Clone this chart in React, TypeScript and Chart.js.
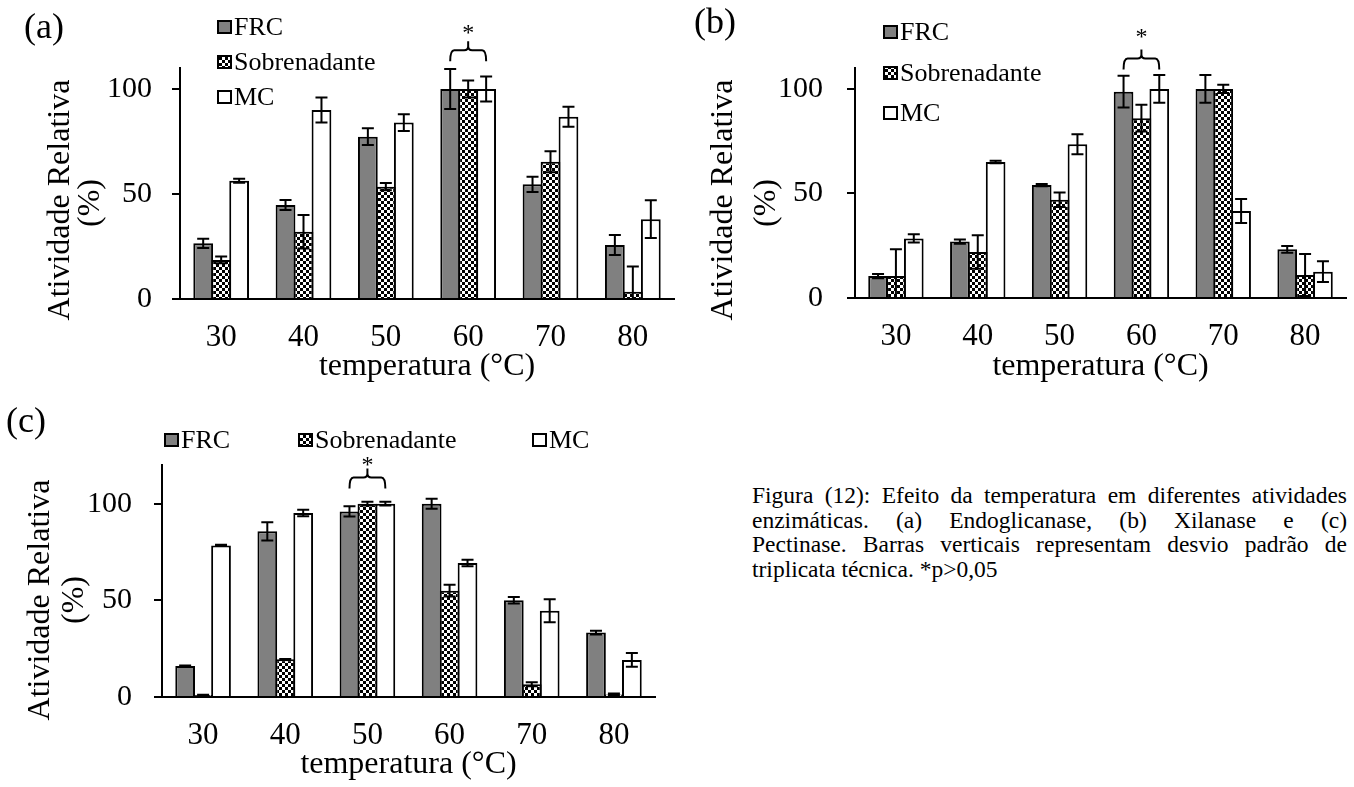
import React, { useEffect, useRef } from 'react';
import { Chart, registerables } from 'chart.js';

Chart.register(...registerables);

const FONT = '"Liberation Serif", "Times New Roman", serif';

// ---------- data ----------
const temperatures = ['30', '40', '50', '60', '70', '80'];
const seriesLabels = ['FRC', 'Sobrenadante', 'MC'];
const yTickStep = 50;

// (a) Endoglicanase
const endoFRC = [26.5, 44.8, 77.3, 100, 54.6, 25.7];
const endoFRCErr = [2.2, 2.4, 4, 9.5, 3.6, 4.8];
const endoSob = [18.6, 32, 53.5, 100, 65.4, 3.5];
const endoSobErr = [1.6, 8, 1.7, 4, 5, 12];
const endoMC = [56.3, 90, 84, 100, 86.8, 38];
const endoMCErr = [1, 6, 4, 6, 4.8, 9];

// (b) Xilanase
const xilFRC = [10.5, 27, 54, 98.7, 100, 23.3];
const xilFRCErr = [1, 1, 0.5, 7.6, 6.6, 1.6];
const xilSob = [10.5, 22, 47, 86, 100, 11];
const xilSobErr = [12.8, 8, 3.5, 6.4, 2, 10];
const xilMC = [28.5, 65, 73.5, 100, 41.6, 12.6];
const xilMCErr = [2, 0.6, 4.8, 6.6, 5.7, 5];

// (c) Pectinase
const pecFRC = [16, 85.7, 96, 100, 50, 33.3];
const pecFRCErr = [0.3, 4.7, 2.6, 2.6, 1.7, 1];
const pecSob = [1, 19.5, 100, 55, 6.6, 1.3];
const pecSobErr = [0.2, 0.2, 1, 3, 1, 0.5];
const pecMC = [78.4, 95.2, 100, 69.3, 44.6, 19.2];
const pecMCErr = [0.3, 1.7, 1, 1.7, 6, 3.5];

const captionLines = [
  'Figura (12): Efeito da temperatura em diferentes atividades',
  'enzimáticas. (a) Endoglicanase, (b) Xilanase e (c)',
  'Pectinase. Barras verticais representam desvio padrão de',
  'triplicata técnica. *p>0,05',
];

// ---------- layout specs ----------
type PanelSpec = {
  id: string;
  left: number; top: number; width: number; height: number;
  area: { left: number; right: number; top: number; bottom: number };
  yMax: number;
  yTickPad: number;
  xTitlePad: number;
  values: number[][];
  errors: number[][];
  bracket: { index: number; value: number; starGap: number };
  legend: { swatchX: number[]; y: number[] };
  yTitle: { mainX: number; mainY: number; unitX: number; unitY: number };
};

const panels: PanelSpec[] = [
  {
    id: 'a', left: 0, top: 0, width: 690, height: 390,
    area: { left: 180, right: 674, top: 68, bottom: 299 },
    yMax: 110, yTickPad: 20, xTitlePad: 4,
    values: [endoFRC, endoSob, endoMC],
    errors: [endoFRCErr, endoSobErr, endoMCErr],
    bracket: { index: 3, value: 118.5, starGap: 11 },
    legend: { swatchX: [217, 217, 217], y: [27, 62, 97] },
    yTitle: { mainX: 61, mainY: 200, unitX: 91, unitY: 203 },
  },
  {
    id: 'b', left: 690, top: 0, width: 664, height: 390,
    area: { left: 165, right: 656, top: 68, bottom: 298 },
    yMax: 110, yTickPad: 24, xTitlePad: 4,
    values: [xilFRC, xilSob, xilMC],
    errors: [xilFRCErr, xilSobErr, xilMCErr],
    bracket: { index: 3, value: 114.5, starGap: 16 },
    legend: { swatchX: [193, 193, 193], y: [32, 73, 113] },
    yTitle: { mainX: 34, mainY: 200, unitX: 77, unitY: 203 },
  },
  {
    id: 'c', left: 0, top: 390, width: 690, height: 397,
    area: { left: 162, right: 655, top: 75, bottom: 307 },
    yMax: 120, yTickPad: 22, xTitlePad: 3,
    values: [pecFRC, pecSob, pecMC],
    errors: [pecFRCErr, pecSobErr, pecMCErr],
    bracket: { index: 2, value: 113.5, starGap: 7 },
    legend: { swatchX: [164, 298, 532], y: [50, 50, 50] },
    yTitle: { mainX: 41, mainY: 210, unitX: 75, unitY: 210 },
  },
];

function makeChecker(): CanvasPattern | string {
  const c = document.createElement('canvas');
  c.width = 6;
  c.height = 6;
  const g = c.getContext('2d');
  if (!g) return '#777';
  g.fillStyle = '#ffffff';
  g.fillRect(0, 0, 6, 6);
  g.fillStyle = '#000000';
  g.fillRect(0, 0, 3, 3);
  g.fillRect(3, 3, 3, 3);
  return g.createPattern(c, 'repeat') || '#777';
}

function Panel({ spec }: { spec: PanelSpec }) {
  const ref = useRef<HTMLCanvasElement>(null);

  useEffect(() => {
    const canvas = ref.current;
    if (!canvas) return;
    const fills: any[] = ['#808080', makeChecker(), '#ffffff'];

    const errorBars = {
      id: 'errorBars',
      afterDatasetsDraw(chart: any) {
        const ctx = chart.ctx;
        const ys = chart.scales.y;
        ctx.save();
        ctx.strokeStyle = '#000';
        ctx.lineWidth = 2;
        chart.data.datasets.forEach((ds: any, i: number) => {
          const meta = chart.getDatasetMeta(i);
          meta.data.forEach((bar: any, j: number) => {
            const v = ds.data[j] as number;
            const e = spec.errors[i][j];
            const top = ys.getPixelForValue(v + e);
            const bot = ys.getPixelForValue(Math.max(0, v - e));
            const x = bar.x;
            const w = 6;
            ctx.beginPath();
            ctx.moveTo(x, top);
            ctx.lineTo(x, bot);
            ctx.moveTo(x - w, top);
            ctx.lineTo(x + w, top);
            ctx.moveTo(x - w, bot);
            ctx.lineTo(x + w, bot);
            ctx.stroke();
          });
        });
        ctx.restore();
      },
    };

    const decorations = {
      id: 'decorations',
      afterDraw(chart: any) {
        const ctx = chart.ctx;
        ctx.save();
        // significance bracket
        const b = spec.bracket;
        const x1 = chart.getDatasetMeta(0).data[b.index].x;
        const x2 = chart.getDatasetMeta(2).data[b.index].x;
        const xm = (x1 + x2) / 2;
        const yTop = chart.scales.y.getPixelForValue(b.value);
        const r = 4;
        const drop = 11;
        const tick = 9;
        ctx.strokeStyle = '#000';
        ctx.lineWidth = 2;
        ctx.beginPath();
        ctx.moveTo(x1, yTop + drop);
        ctx.quadraticCurveTo(x1, yTop, x1 + r, yTop);
        ctx.lineTo(xm - r, yTop);
        ctx.quadraticCurveTo(xm, yTop, xm, yTop - r);
        ctx.lineTo(xm, yTop - tick);
        ctx.moveTo(xm, yTop - r);
        ctx.quadraticCurveTo(xm, yTop, xm + r, yTop);
        ctx.lineTo(x2 - r, yTop);
        ctx.quadraticCurveTo(x2, yTop, x2, yTop + drop);
        ctx.stroke();
        ctx.fillStyle = '#000';
        ctx.font = `24px ${FONT}`;
        ctx.textAlign = 'center';
        ctx.textBaseline = 'middle';
        ctx.fillText('*', xm, yTop - tick - b.starGap + 4);

        // legend
        ctx.font = `26px ${FONT}`;
        ctx.textAlign = 'left';
        chart.data.datasets.forEach((ds: any, i: number) => {
          const sx = spec.legend.swatchX[i];
          const sy = spec.legend.y[i];
          ctx.fillStyle = ds.backgroundColor;
          ctx.fillRect(sx, sy - 7, 15, 14);
          ctx.strokeStyle = '#000';
          ctx.lineWidth = 2;
          ctx.strokeRect(sx + 1, sy - 6, 13, 12);
          ctx.fillStyle = '#000';
          ctx.fillText(ds.label, sx + 17, sy + 1);
        });

        // y axis title (two lines, rotated)
        ctx.font = `32px ${FONT}`;
        ctx.textAlign = 'center';
        ctx.textBaseline = 'middle';
        const t = spec.yTitle;
        ctx.save();
        ctx.translate(t.mainX, t.mainY);
        ctx.rotate(-Math.PI / 2);
        ctx.fillText('Atividade Relativa', 0, 0);
        ctx.restore();
        ctx.save();
        ctx.translate(t.unitX, t.unitY);
        ctx.rotate(-Math.PI / 2);
        ctx.fillText('(%)', 0, 0);
        ctx.restore();
        ctx.restore();
      },
    };

    const chart = new Chart(canvas, {
      type: 'bar',
      data: {
        labels: temperatures,
        datasets: seriesLabels.map((label, i) => ({
          label,
          data: spec.values[i],
          backgroundColor: fills[i],
          borderColor: '#000',
          borderWidth: 2,
          borderSkipped: 'start',
          categoryPercentage: 0.655,
          barPercentage: 1.1,
        })),
      },
      options: {
        responsive: false,
        animation: false,
        events: [],
        layout: {
          padding: { left: 0, top: spec.area.top, right: spec.width - spec.area.right, bottom: 0 },
        },
        plugins: {
          legend: { display: false },
          tooltip: { enabled: false },
          title: { display: false },
        },
        scales: {
          x: {
            grid: { display: false, drawTicks: false },
            border: { display: true, color: '#000', width: 2 },
            ticks: {
              color: '#000',
              font: { family: FONT, size: 31 },
              padding: 20,
              maxRotation: 0,
            },
            title: {
              display: true,
              text: 'temperatura (°C)',
              color: '#000',
              font: { family: FONT, size: 32 },
              padding: { top: 0, bottom: spec.xTitlePad },
            },
            afterFit(scale: any) {
              scale.height = spec.height - spec.area.bottom;
            },
          },
          y: {
            min: 0,
            max: spec.yMax,
            grid: {
              drawOnChartArea: false,
              drawTicks: true,
              tickLength: 8,
              color: '#000',
              lineWidth: 2,
            },
            border: { display: true, color: '#000', width: 2 },
            ticks: {
              stepSize: yTickStep,
              includeBounds: false,
              color: '#000',
              font: { family: FONT, size: 30 },
              padding: spec.yTickPad,
            },
            afterFit(scale: any) {
              scale.width = spec.area.left;
            },
          },
        },
      },
      plugins: [errorBars, decorations],
    } as any);

    return () => chart.destroy();
  }, [spec]);

  return (
    <canvas
      ref={ref}
      width={spec.width}
      height={spec.height}
      style={{ position: 'absolute', left: spec.left, top: spec.top, display: 'block' }}
    />
  );
}

const panelLabels = [
  { text: '(a)', left: 24, top: 8 },
  { text: '(b)', left: 694, top: 3 },
  { text: '(c)', left: 6, top: 402 },
];

export default function App() {
  return (
    <div
      style={{
        position: 'fixed',
        left: 0,
        top: 0,
        width: 1354,
        height: 787,
        background: '#fff',
        overflow: 'hidden',
        fontFamily: FONT,
        color: '#000',
      }}
    >
      {panels.map((p) => (
        <Panel key={p.id} spec={p} />
      ))}
      {panelLabels.map((l) => (
        <div
          key={l.text}
          style={{ position: 'absolute', left: l.left, top: l.top, fontSize: 36, lineHeight: '36px', whiteSpace: 'nowrap' }}
        >
          {l.text}
        </div>
      ))}
      <div style={{ position: 'absolute', left: 752, top: 483, width: 595, fontSize: 23.5, lineHeight: '24.5px' }}>
        {captionLines.map((line, i) => (
          <div
            key={i}
            style={{
              textAlign: 'justify',
              textAlignLast: i < captionLines.length - 1 ? 'justify' : 'left',
              whiteSpace: 'nowrap',
            }}
          >
            {line}
          </div>
        ))}
      </div>
    </div>
  );
}
